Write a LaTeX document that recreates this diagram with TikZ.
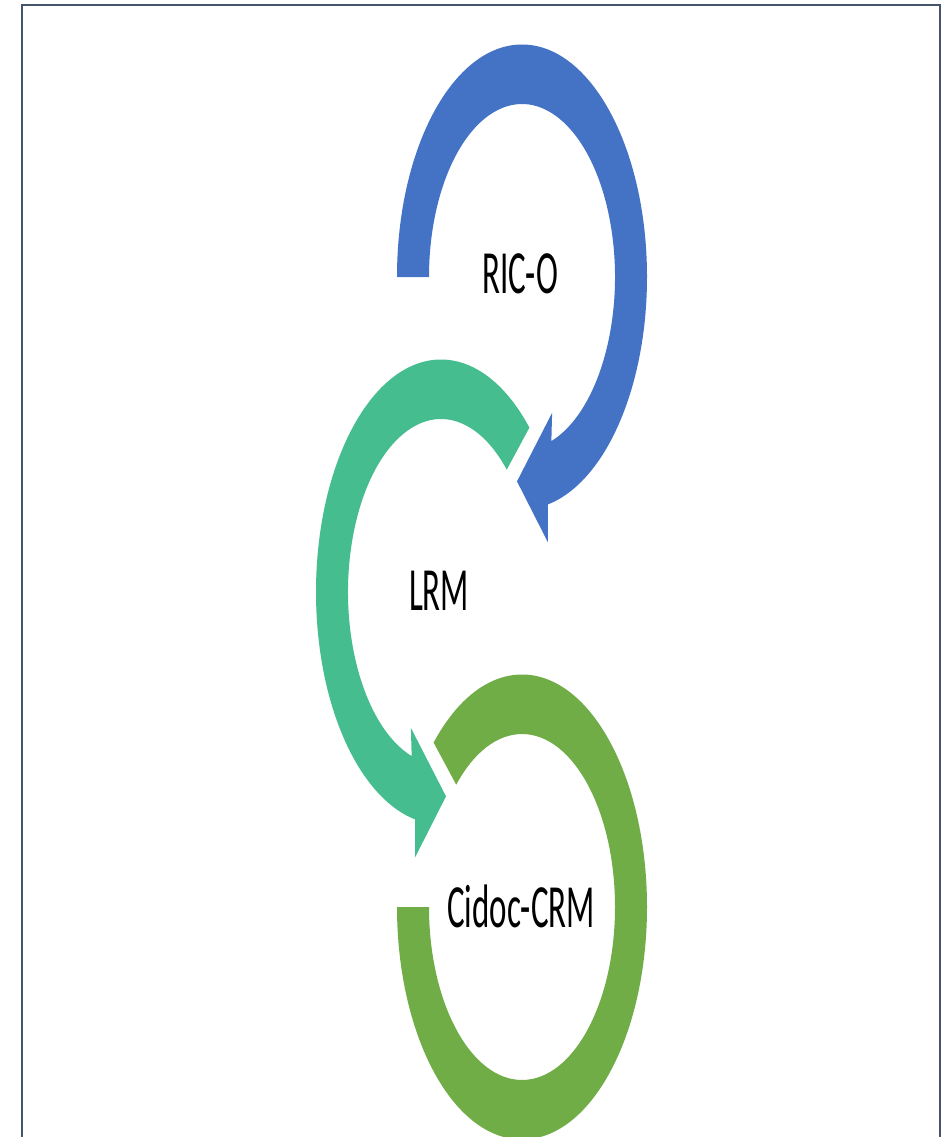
\documentclass[tikz,border=0pt]{standalone}
\usepackage{fontspec}
\setmainfont{Carlito}
\usepackage{graphicx}
\definecolor{blueA}{HTML}{4472C4}
\definecolor{tealA}{HTML}{45BD8E}
\definecolor{oliveA}{HTML}{70AD47}
\definecolor{frameA}{HTML}{44546A}
\begin{document}
\begin{tikzpicture}[x=1pt,y=-1pt,
  lbl/.style={inner sep=0pt, anchor=base, text=black},
  ring/.style={yscale=-1.86}]
\useasboundingbox (0,0) rectangle (951,1137);
\clip (0,0) rectangle (951,1137);
\fill[white] (0,0) rectangle (951,1137);
% frame
\draw[frameA, line width=2.5pt] (22,1145) -- (22,5) -- (940,5) -- (940,1145);
% blue circular arrow
\begin{scope}[shift={(522,277)}, ring]
\fill[blueA] (180:125) arc[start angle=180, end angle=-78, radius=125]
  -- (-79.7:145) -- (-92.6:110) -- (-67.6:79) -- (-71.6:93)
  arc[start angle=-71.6, end angle=180, radius=93] -- cycle;
\end{scope}
% teal circular arrow
\begin{scope}[shift={(441,592)}, ring]
\fill[tealA] (45:125) arc[start angle=45, end angle=258, radius=125]
  -- (259.7:145) -- (272.6:110) -- (247.6:79) -- (251.6:93)
  arc[start angle=251.6, end angle=45, radius=93] -- cycle;
\end{scope}
% olive block arc
\begin{scope}[shift={(522,907)}, ring]
\fill[oliveA] (135:125) arc[start angle=135, end angle=-180, radius=125]
  -- (-180:93) arc[start angle=-180, end angle=135, radius=93] -- cycle;
\end{scope}
% labels
\node[lbl] (rico) at (520,293) {\scalebox{1}[1.86]{\fontsize{33}{40}\selectfont RIC-O}};
\node[lbl] (lrm) at (439,610) {\scalebox{1}[1.86]{\fontsize{33}{40}\selectfont LRM}};
\node[lbl] (cidoc) at (521,927) {\scalebox{1}[1.86]{\fontsize{33}{40}\selectfont Cidoc-CRM}};
\end{tikzpicture}
\end{document}
